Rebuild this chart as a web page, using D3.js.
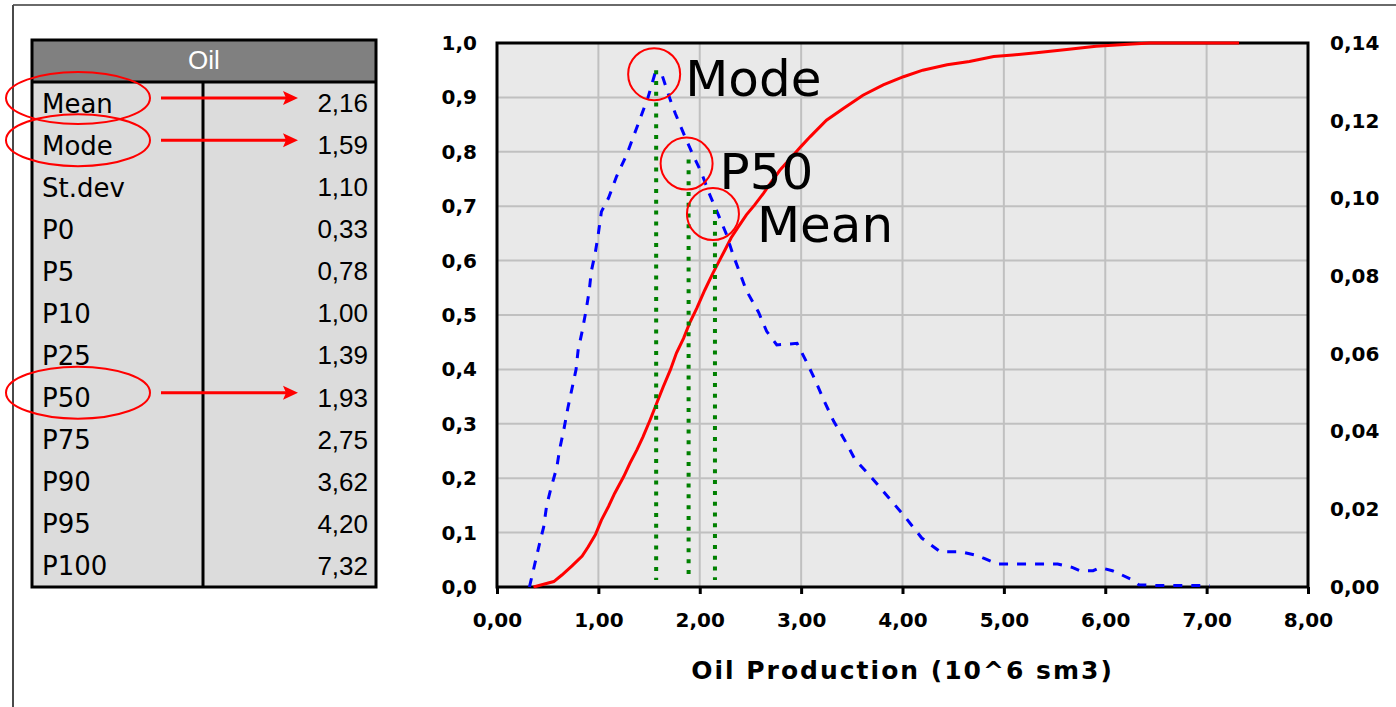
<!DOCTYPE html>
<html>
<head>
<meta charset="utf-8">
<script src="https://d3js.org/d3.v7.min.js"></script>
<style>
  body { margin: 0; background: #fff; }
  svg { display: block; }
  .tbl text { font-family: "Liberation Sans", Arial, sans-serif; font-size: 26px; }
  .tbl text.lbl { font-family: "DejaVu Sans", sans-serif; font-size: 26px; }
  .axis text { font-family: "DejaVu Sans", sans-serif; font-weight: bold; font-size: 20px; fill: #000; }
  .note { font-family: "DejaVu Sans", sans-serif; font-size: 50px; fill: #000; }
</style>
</head>
<body>
<script>

// summary table
var statNames = ["Mean", "Mode", "St.dev", "P0", "P5", "P10", "P25", "P50", "P75", "P90", "P95", "P100"];
var statValues = [2.16, 1.59, 1.10, 0.33, 0.78, 1.00, 1.39, 1.93, 2.75, 3.62, 4.20, 7.32];
var highlighted = ["Mean", "Mode", "P50"];

// cumulative curve (left axis)
var cdfX = [0.36, 0.46, 0.56, 0.64, 0.74, 0.84, 0.90, 0.97, 1.03, 1.10, 1.16, 1.25, 1.31, 1.38, 1.44, 1.51,
  1.58, 1.64, 1.71, 1.77, 1.84, 1.90, 1.97, 2.05, 2.13, 2.18, 2.25, 2.31, 2.38, 2.46, 2.54, 2.63,
  2.70, 2.79, 2.90, 3.00, 3.09, 3.25, 3.42, 3.61, 3.81, 4.01, 4.20, 4.44, 4.66, 4.90, 5.09, 5.32,
  5.62, 5.91, 6.27, 6.44, 7.32];
var cdfY = [0.0, 0.005, 0.01, 0.022, 0.039, 0.057, 0.074, 0.096, 0.123, 0.148, 0.172, 0.203, 0.227, 0.252, 0.276, 0.307,
  0.34, 0.368, 0.399, 0.43, 0.457, 0.485, 0.512, 0.546, 0.577, 0.595, 0.62, 0.642, 0.662, 0.684, 0.702, 0.724,
  0.743, 0.766, 0.789, 0.81, 0.828, 0.858, 0.88, 0.904, 0.923, 0.938, 0.95, 0.96, 0.966, 0.975, 0.978, 0.982,
  0.988, 0.994, 0.998, 1.0, 1.0];

// density curve (right axis)
var pdfX = [0.32, 0.37, 0.42, 0.46, 0.49, 0.53, 0.59, 0.62, 0.66, 0.70, 0.74, 0.78, 0.80, 0.84, 0.88, 0.91,
  0.93, 0.97, 1.00, 1.03, 1.10, 1.18, 1.28, 1.35, 1.41, 1.49, 1.56, 1.63, 1.71, 1.76, 1.86, 1.92,
  2.02, 2.09, 2.17, 2.26, 2.33, 2.40, 2.46, 2.58, 2.66, 2.76, 2.96, 3.05, 3.14, 3.22, 3.32, 3.43,
  3.53, 3.70, 3.86, 4.02, 4.19, 4.37, 4.57, 4.74, 4.80, 4.94, 5.53, 5.68, 5.75, 5.88, 5.95, 6.07,
  6.14, 6.27, 6.33, 6.50, 7.03];
var pdfY = [0, 0.0056, 0.0112, 0.0154, 0.021, 0.0252, 0.0308, 0.0357, 0.0406, 0.0462, 0.0511, 0.056, 0.0609, 0.0658, 0.0714, 0.0763,
  0.0812, 0.0861, 0.091, 0.0966, 0.1001, 0.1057, 0.1113, 0.1162, 0.1204, 0.126, 0.1323, 0.1316, 0.1253, 0.1218, 0.1155, 0.112,
  0.1064, 0.1015, 0.0966, 0.091, 0.0854, 0.0805, 0.0763, 0.0707, 0.0658, 0.0623, 0.0627, 0.0581, 0.0532, 0.0483, 0.0427, 0.0378,
  0.0329, 0.028, 0.0231, 0.0182, 0.0126, 0.0091, 0.0091, 0.0081, 0.0074, 0.0059, 0.0059, 0.005, 0.0042, 0.0042, 0.005, 0.0042,
  0.0034, 0.0018, 0.0006, 0.0004, 0.0004];

// marked statistics on the chart
var markerNames = ["Mode", "P50", "Mean"];
var markerX = [1.57, 1.89, 2.15];
var markerTop = [0.133, 0.110, 0.097];
var markerBottom = 0.0018;

// tick values
var xTicks = [0, 1, 2, 3, 4, 5, 6, 7, 8];
var leftTicks = [0, 0.1, 0.2, 0.3, 0.4, 0.5, 0.6, 0.7, 0.8, 0.9, 1.0];
var rightTicks = [0, 0.02, 0.04, 0.06, 0.08, 0.10, 0.12, 0.14];

var svgWidth = 1396;
var svgHeight = 707;

var margin = { top: 43, right: 88, bottom: 120, left: 497 };
var width = svgWidth - margin.left - margin.right;
var height = svgHeight - margin.top - margin.bottom;

var locale = d3.formatLocale({ decimal: ",", thousands: ".", grouping: [3], currency: ["", ""] });
var fmt1 = locale.format(".1f");
var fmt2 = locale.format(".2f");

var svg = d3.select("body")
  .append("svg")
  .attr("width", svgWidth)
  .attr("height", svgHeight);

// outer frame lines
svg.append("line").attr("x1", 13).attr("x2", svgWidth).attr("y1", 5).attr("y2", 5)
  .attr("stroke", "#6a6a6a").attr("stroke-width", 2);
svg.append("line").attr("x1", 13).attr("x2", 13).attr("y1", 5).attr("y2", svgHeight)
  .attr("stroke", "#4a4a4a").attr("stroke-width", 2);

// ---------- table ----------
var tbl = { x: 32, y: 40, w: 344, headH: 42, colX: 203 };
var rowY = d3.scaleBand().domain(statNames).range([tbl.y + tbl.headH, 587]);

var table = svg.append("g").attr("class", "tbl");

table.append("rect")
  .attr("x", tbl.x).attr("y", tbl.y)
  .attr("width", tbl.w).attr("height", 587 - tbl.y)
  .attr("fill", "#dcdcdc");

table.append("rect")
  .attr("x", tbl.x).attr("y", tbl.y)
  .attr("width", tbl.w).attr("height", tbl.headH)
  .attr("fill", "#808080");

table.append("text")
  .attr("x", tbl.x + tbl.w / 2).attr("y", tbl.y + tbl.headH / 2 + 1)
  .attr("text-anchor", "middle").attr("dominant-baseline", "middle")
  .attr("fill", "#fff")
  .text("Oil");

table.append("line")
  .attr("x1", tbl.x).attr("x2", tbl.x + tbl.w)
  .attr("y1", tbl.y + tbl.headH).attr("y2", tbl.y + tbl.headH)
  .attr("stroke", "#000").attr("stroke-width", 3);

table.append("line")
  .attr("x1", tbl.colX).attr("x2", tbl.colX)
  .attr("y1", tbl.y + tbl.headH).attr("y2", 587)
  .attr("stroke", "#000").attr("stroke-width", 3);

table.append("rect")
  .attr("x", tbl.x).attr("y", tbl.y)
  .attr("width", tbl.w).attr("height", 587 - tbl.y)
  .attr("fill", "none").attr("stroke", "#000").attr("stroke-width", 3);

table.selectAll(".lbl")
  .data(statNames)
  .enter()
  .append("text")
  .attr("class", "lbl")
  .attr("x", 42)
  .attr("y", d => rowY(d) + rowY.bandwidth() / 2 + 2)
  .attr("dominant-baseline", "middle")
  .text(d => d);

table.selectAll(".val")
  .data(statValues)
  .enter()
  .append("text")
  .attr("class", "val")
  .attr("x", 368)
  .attr("y", (d, i) => rowY(statNames[i]) + rowY.bandwidth() / 2 + 2)
  .attr("text-anchor", "end")
  .attr("dominant-baseline", "middle")
  .text(d => fmt2(d));

// red ellipses + arrows on highlighted rows
highlighted.forEach(function(name) {
  var cy = rowY(name) + rowY.bandwidth() / 2 - 5;
  svg.append("ellipse")
    .attr("cx", 78).attr("cy", cy)
    .attr("rx", 72).attr("ry", 26)
    .attr("fill", "none").attr("stroke", "#ff0000").attr("stroke-width", 2);
  svg.append("line")
    .attr("x1", 161).attr("x2", 286).attr("y1", cy).attr("y2", cy)
    .attr("stroke", "#ff0000").attr("stroke-width", 3);
  svg.append("path")
    .attr("d", `M${298},${cy} L${283},${cy - 7} L${286},${cy} L${283},${cy + 7} Z`)
    .attr("fill", "#ff0000");
});

// ---------- chart ----------
var chartGroup = svg.append("g")
  .attr("transform", `translate(${margin.left}, ${margin.top})`);

var xLinearScale = d3.scaleLinear().domain([0, 8]).range([0, width]);
var yLeftScale = d3.scaleLinear().domain([0, 1]).range([height, 0]);
var yRightScale = d3.scaleLinear().domain([0, 0.14]).range([height, 0]);

chartGroup.append("rect")
  .attr("width", width).attr("height", height)
  .attr("fill", "#e9e9e9");

// grid
chartGroup.selectAll(".vgrid")
  .data(xTicks.slice(1, -1))
  .enter()
  .append("line")
  .attr("x1", d => xLinearScale(d)).attr("x2", d => xLinearScale(d))
  .attr("y1", 0).attr("y2", height)
  .attr("stroke", "#c0c0c0").attr("stroke-width", 2);

chartGroup.selectAll(".hgrid")
  .data(leftTicks.slice(1, -1))
  .enter()
  .append("line")
  .attr("x1", 0).attr("x2", width)
  .attr("y1", d => yLeftScale(d)).attr("y2", d => yLeftScale(d))
  .attr("stroke", "#c0c0c0").attr("stroke-width", 2);

// border
chartGroup.append("rect")
  .attr("width", width).attr("height", height)
  .attr("fill", "none").attr("stroke", "#000").attr("stroke-width", 3);

// cumulative (red)
var cdfLine = d3.line()
  .x(d => xLinearScale(d[0]))
  .y(d => yLeftScale(d[1]));

chartGroup.append("path")
  .datum(d3.zip(cdfX, cdfY))
  .attr("d", cdfLine)
  .attr("fill", "none")
  .attr("stroke", "#ff0000")
  .attr("stroke-width", 3);

// density (blue dashed)
var pdfLine = d3.line()
  .x(d => xLinearScale(d[0]))
  .y(d => yRightScale(d[1]));

chartGroup.append("path")
  .datum(d3.zip(pdfX, pdfY))
  .attr("d", pdfLine)
  .attr("fill", "none")
  .attr("stroke", "#0000ff")
  .attr("stroke-width", 3)
  .attr("stroke-dasharray", "9,9");

// green dotted marker lines
chartGroup.selectAll(".marker")
  .data(markerX)
  .enter()
  .append("line")
  .attr("x1", d => xLinearScale(d)).attr("x2", d => xLinearScale(d))
  .attr("y1", (d, i) => yRightScale(markerTop[i]))
  .attr("y2", yRightScale(markerBottom))
  .attr("stroke", "#008000")
  .attr("stroke-width", 4)
  .attr("stroke-dasharray", "4,6.8");

// circles and labels
var labelOffset = [[31, 22], [33, 25], [44, 28]];

chartGroup.selectAll(".ring")
  .data(markerX)
  .enter()
  .append("circle")
  .attr("cx", d => xLinearScale(d) - 2)
  .attr("cy", (d, i) => yRightScale(markerTop[i]) + 4)
  .attr("r", 26)
  .attr("fill", "none")
  .attr("stroke", "#ff0000")
  .attr("stroke-width", 2);

chartGroup.selectAll(".note")
  .data(markerNames)
  .enter()
  .append("text")
  .attr("class", "note")
  .attr("x", (d, i) => xLinearScale(markerX[i]) - 2 + labelOffset[i][0])
  .attr("y", (d, i) => yRightScale(markerTop[i]) + 4 + labelOffset[i][1])
  .text(d => d);

// axes
var bottomAxis = d3.axisBottom(xLinearScale).tickValues(xTicks).tickFormat(fmt2).tickSize(7).tickPadding(19);
var leftAxis = d3.axisLeft(yLeftScale).tickValues(leftTicks).tickFormat(fmt1).tickSize(0).tickPadding(20);
var rightAxis = d3.axisRight(yRightScale).tickValues(rightTicks).tickFormat(fmt2).tickSize(0).tickPadding(22);

var gx = chartGroup.append("g")
  .attr("class", "axis")
  .attr("transform", `translate(0, ${height})`)
  .call(bottomAxis);
gx.select(".domain").remove();
gx.selectAll(".tick line").attr("stroke", "#000").attr("stroke-width", 3);

var gl = chartGroup.append("g").attr("class", "axis").call(leftAxis);
gl.select(".domain").remove();

var gr = chartGroup.append("g")
  .attr("class", "axis")
  .attr("transform", `translate(${width}, 0)`)
  .call(rightAxis);
gr.select(".domain").remove();

chartGroup.selectAll(".axis").attr("font-family", null).attr("font-size", null);

chartGroup.append("text")
  .attr("x", width / 2)
  .attr("y", height + 92)
  .attr("text-anchor", "middle")
  .style("font-family", "DejaVu Sans, sans-serif")
  .style("font-weight", "bold")
  .style("font-size", "25px")
  .style("letter-spacing", "2px")
  .text("Oil Production (10^6 sm3)");

</script>
</body>
</html>
